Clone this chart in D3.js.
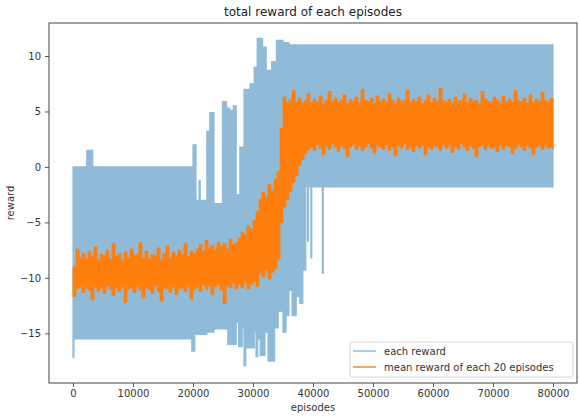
<!DOCTYPE html>
<html><head><meta charset="utf-8">
<script src="https://cdn.jsdelivr.net/npm/d3@7"></script>
<style>body{margin:0;background:#fff} text{font-family:"DejaVu Sans",sans-serif}</style>
</head><body><svg id="c" width="579" height="417"></svg>
<script>
// ---------------- data ----------------
const title = "total reward of each episodes";
const xLabel = "episodes";
const yLabel = "reward";
const xTicks = [0, 10000, 20000, 30000, 40000, 50000, 60000, 70000, 80000];
const yTicks = [-15, -10, -5, 0, 5, 10];
const seriesNames = ["each reward", "mean reward of each 20 episodes"];

// each reward: upper / lower envelope (step breakpoints: episode, value)
const blueHiEp  = [0, 2300, 3300, 3600, 3750, 8300, 8450, 8950, 9100, 9950, 10100, 20000, 20500, 21000, 21200, 22300, 22800, 23500, 24900, 25600, 26100, 26700, 27200, 27800, 28500, 29500, 30200, 30700, 31600, 32200, 33100, 33900, 35000, 36000, 39300, 39450, 48250, 48400, 63000, 63150, 76700, 76850, 80000];
const blueHiVal = [0, 1.5, 0, -5.4, 0, -5.0, 0, -5.3, 0, -4.5, 0, 2.0, -3.0, -1.2, -3.0, 3.2, 4.9, -3.3, 5.9, 5.3, 5.1, 5.5, -2.5, 1.8, 7.0, 7.5, 9.0, 11.6, 10.8, 8.7, 9.5, 11.4, 11.2, 11.0, 9.9, 11.0, 9.2, 11.0, 9.0, 11.0, 9.0, 11.0, 11.0];
const blueLoEp  = [0, 150, 19800, 20300, 22300, 23500, 25800, 27200, 27600, 28200, 28500, 28800, 30200, 30500, 30800, 31200, 32000, 32500, 33600, 34200, 35000, 35500, 36000, 36500, 37200, 37800, 38300, 38800, 39100, 39250, 39650, 39800, 41550, 41700, 49900, 50050, 68900, 69050, 72800, 72950, 80000];
const blueLoVal = [-17.2, -15.5, -16.6, -15.1, -14.9, -14.6, -16.0, -14.0, -16.2, -14.5, -17.9, -16.3, -14.8, -17.1, -15.5, -17.0, -14.9, -17.5, -14.5, -13.0, -14.9, -13.4, -11.1, -13.4, -11.7, -12.3, -9.3, -1.8, -6.7, -1.8, -8.2, -1.8, -9.6, -1.8, -1.2, -1.8, -1.2, -1.8, -1.2, -1.8, -1.8];

// mean reward of each 20 episodes: upper / lower edge, one value every 500 episodes (0..80000)
const orangeStep = 500;
const orangeHi = [
 -9.0, -7.4, -8.2, -7.8, -8.3, -7.6, -8.1, -7.2, -8.4, -7.9,
 -8.0, -7.5, -8.3, -6.9, -8.1, -7.8, -8.4, -7.7, -8.2, -7.4,
 -8.0, -7.9, -6.8, -8.2, -7.6, -8.3, -7.9, -8.0, -7.3, -8.4,
 -7.8, -7.1, -8.2, -7.7, -8.0, -7.5, -7.9, -6.9, -8.1, -7.6,
 -7.8,
 -7.4, -7.0, -7.6, -6.6, -7.3, -7.1, -7.5, -6.8, -7.2, -6.9, -7.4, -6.5, -7.0, -6.8,
 -6.4, -5.9, -6.1, -5.3, -5.6, -4.8, -4.0,
 -2.9, -2.3, -2.7, -1.6, -2.2, -1.1, -0.4,
 3.5,
 6.3, 5.8, 6.1, 6.9, 5.9, 6.2, 5.7, 6.0, 6.6, 5.8,
 6.1, 5.9, 6.4, 5.7, 6.0, 6.8, 5.9, 6.2, 5.8, 6.0,
 6.5, 5.7, 6.1, 5.9, 6.3, 5.8, 7.0, 6.0, 5.9, 6.2,
 5.7, 6.4, 5.9, 6.1, 5.8, 6.6, 6.0, 5.7, 6.2, 5.9,
 6.0, 6.9, 5.8, 6.1, 5.9, 6.3, 5.7, 6.0, 6.5, 5.8,
 6.2, 5.9, 7.1, 6.0, 5.8, 6.1, 5.7, 6.3, 5.9, 6.0,
 6.6, 5.8, 6.2, 5.9, 6.0, 5.7, 6.8, 6.1, 5.9, 5.8,
 6.3, 6.0, 5.7, 6.4, 5.9, 6.1, 5.8, 6.9, 6.0, 5.9,
 6.2, 5.7, 6.5, 5.8, 6.1, 5.9, 6.7, 6.0, 5.8, 6.2,
 5.9
];
const orangeLo = [
 -11.7, -11.0, -10.8, -11.3, -10.9, -11.1, -12.0, -10.8, -11.2, -10.9,
 -11.4, -10.7, -11.0, -11.6, -10.9, -11.2, -10.8, -12.2, -11.0, -10.9,
 -11.3, -10.8, -11.1, -11.8, -10.9, -11.0, -11.4, -10.7, -11.2, -12.1,
 -10.9, -11.0, -11.3, -10.8, -11.5, -11.0, -10.9, -11.2, -10.8, -11.9,
 -11.0,
 -10.8, -11.2, -10.6, -11.0, -10.7, -11.5, -10.8, -10.6, -11.1, -12.3, -10.7, -10.9, -10.5, -11.0,
 -10.6, -10.9, -10.4, -11.0, -10.6, -10.3, -10.8,
 -9.6, -9.9, -9.3, -10.1, -9.5, -9.2, -8.3,
 -5.0,
 -3.6, -2.9, -2.2, -1.4, -0.8, 0.1, 0.7, 1.2, 1.5,
 1.8, 1.5, 2.0, 1.7, 1.1, 1.9, 1.6, 2.1, 1.8, 1.4,
 1.9, 1.7, 0.9, 1.8, 2.0, 1.6, 1.9, 1.5, 1.8, 2.1,
 1.7, 1.2, 1.9, 1.8, 1.6, 2.0, 1.5, 1.8, 1.0, 1.9,
 1.7, 2.1, 1.6, 1.8, 1.4, 1.9, 1.7, 2.0, 1.1, 1.8,
 1.6, 1.9, 1.8, 1.5, 2.0, 1.7, 1.9, 1.3, 1.8, 1.6,
 2.1, 1.8, 1.5, 1.9, 1.7, 0.9, 1.8, 2.0, 1.6, 1.9,
 1.7, 1.8, 1.4, 2.0, 1.6, 1.9, 1.8, 1.2, 1.7, 2.0,
 1.8, 1.5, 1.9, 1.7, 1.1, 1.8, 2.0, 1.6, 1.9, 1.7,
 1.8, 1.6
];

// ---------------- chart ----------------
const svg = d3.select("#c");
const L = 49, R = 577, T = 23, B = 383;
const x = d3.scaleLinear().domain([-4000, 84000]).range([L, R]);
const y = d3.scaleLinear().domain([-19.475, 12.975]).range([B, T]);

const blueCol = "#8fbbd9", orangeCol = "#ff7f0e";

// blue envelope table
const allEps = Array.from(new Set([...blueHiEp, ...blueLoEp])).sort((a, b) => a - b);
const stepAt = (eps, vals, e) => vals[Math.max(0, d3.bisectRight(eps, e) - 1)];
const blueRows = allEps.map(e => ({ ep: e, hi: stepAt(blueHiEp, blueHiVal, e), lo: stepAt(blueLoEp, blueLoVal, e) }));

const plot = svg.append("g");
plot.append("path")
  .attr("d", d3.area().x(d => x(d.ep)).y0(d => y(d.lo)).y1(d => y(d.hi)).curve(d3.curveStepAfter)(blueRows))
  .attr("fill", blueCol).attr("stroke", blueCol).attr("stroke-width", 1.2);

const orangeRows = orangeHi.map((v, i) => ({ ep: i * orangeStep, hi: v, lo: orangeLo[i] }));
plot.append("path")
  .attr("d", d3.area().x(d => x(d.ep)).y0(d => y(d.lo)).y1(d => y(d.hi)).curve(d3.curveStepAfter)(orangeRows))
  .attr("fill", orangeCol).attr("stroke", orangeCol).attr("stroke-width", 0.9);

// axes
const fmt = d => String(d).replace("-", "\u2212");
const xAxis = svg.append("g").attr("transform", `translate(0,${B})`)
  .call(d3.axisBottom(x).tickValues(xTicks).tickSize(4).tickPadding(3).tickFormat(d => d));
const yAxis = svg.append("g").attr("transform", `translate(${L},0)`)
  .call(d3.axisLeft(y).tickValues(yTicks).tickSize(4).tickPadding(4).tickFormat(fmt));
[xAxis, yAxis].forEach(a => {
  a.select(".domain").remove();
  a.selectAll(".tick line").attr("stroke", "#444").attr("stroke-width", 0.9);
  a.selectAll(".tick text").attr("fill", "#333").style("font-size", "10px").style("font-family", "DejaVu Sans");
});

// frame
svg.append("rect").attr("x", L).attr("y", T).attr("width", R - L).attr("height", B - T)
  .attr("fill", "none").attr("stroke", "#444").attr("stroke-width", 1);

// titles
svg.append("text").attr("x", (L + R) / 2).attr("y", 16).attr("text-anchor", "middle")
  .attr("fill", "#222").style("font-size", "12px").text(title);
svg.append("text").attr("x", (L + R) / 2).attr("y", 411).attr("text-anchor", "middle")
  .attr("fill", "#333").style("font-size", "10px").text(xLabel);
svg.append("text").attr("transform", `translate(10,${(T + B) / 2}) rotate(-90)`)
  .attr("text-anchor", "middle").attr("dominant-baseline", "central")
  .attr("fill", "#333").style("font-size", "10px").text(yLabel);

// legend
const lg = svg.append("g");
lg.append("rect").attr("x", 350).attr("y", 342).attr("width", 223).attr("height", 35).attr("rx", 2)
  .attr("fill", "#fff").attr("fill-opacity", 0.8).attr("stroke", "#d8d8d8").attr("stroke-width", 1);
const legCols = ["#a9cbe4", "#ffa55a"];
seriesNames.forEach((n, i) => {
  const yy = 351 + i * 16;
  lg.append("line").attr("x1", 353).attr("x2", 376).attr("y1", yy).attr("y2", yy)
    .attr("stroke", legCols[i]).attr("stroke-width", 2);
  lg.append("text").attr("x", 384).attr("y", yy).attr("dominant-baseline", "central")
    .attr("fill", "#333").style("font-size", "10px").text(n);
});
</script></body></html>
